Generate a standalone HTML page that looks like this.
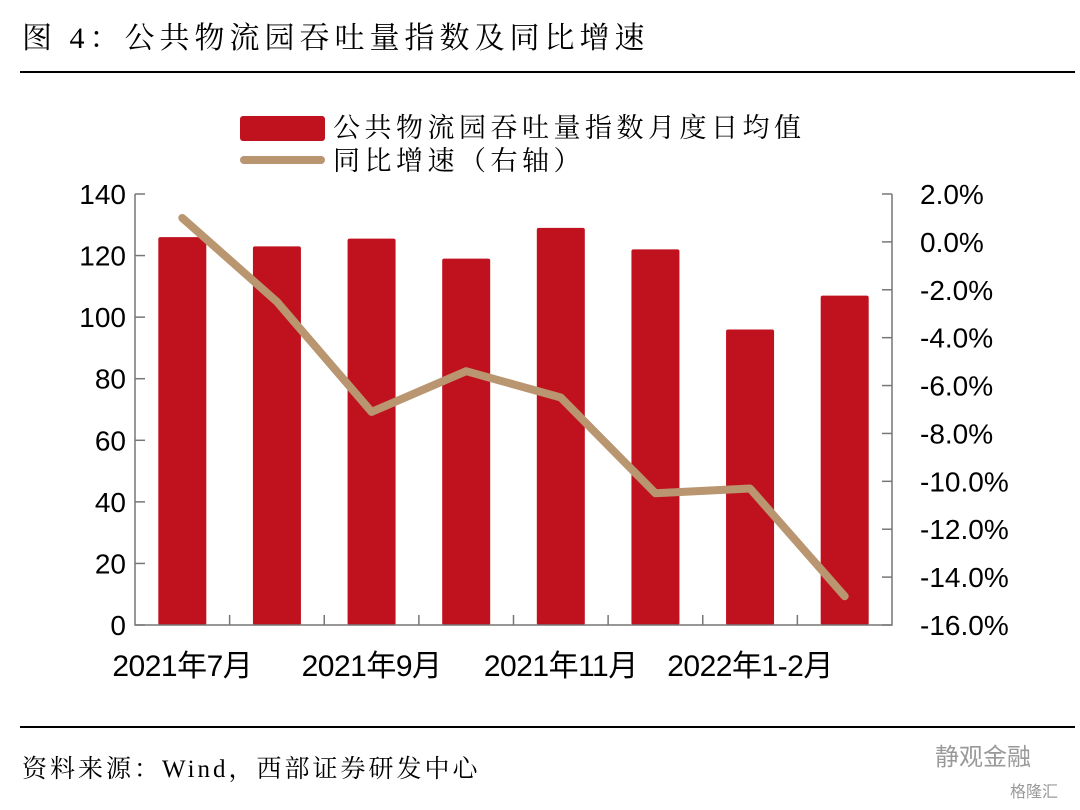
<!DOCTYPE html>
<html><head><meta charset="utf-8"><style>
body{margin:0;background:#fff;width:1080px;height:805px;overflow:hidden}
svg text{font-family:"Liberation Sans","Noto Sans CJK SC",sans-serif;fill:#000}
.serif{font-family:"Liberation Serif","Noto Serif CJK SC",serif}
</style></head><body>
<svg id="chart" width="1080" height="805">
<text class="serif" x="22" y="48" font-size="30" letter-spacing="5">图 4：公共物流园吞吐量指数及同比增速</text>
<line x1="20" y1="72" x2="1075" y2="72" stroke="#000" stroke-width="2"/>
<rect x="240" y="116" width="85" height="25" rx="3" fill="#c0111e"/>
<text class="serif" x="333" y="137" font-size="27" letter-spacing="4.5">公共物流园吞吐量指数月度日均值</text>
<line x1="244" y1="160" x2="321" y2="160" stroke="#b99570" stroke-width="8" stroke-linecap="round"/>
<text class="serif" x="333" y="170" font-size="27" letter-spacing="4.5">同比增速（右轴）</text>
<g id="plot"></g>
<line x1="20" y1="727" x2="1075" y2="727" stroke="#000" stroke-width="2"/>
<text class="serif" x="22" y="777" font-size="25" letter-spacing="3">资料来源：Wind，西部证券研发中心</text>
<text x="935" y="765" font-size="24" style="fill:#999">静观金融</text>
<text x="1010" y="797" font-size="16" style="fill:#999">格隆汇</text>
</svg>
<script>
const categories=["2021年7月","2021年8月","2021年9月","2021年10月","2021年11月","2021年12月","2022年1-2月","2022年3月"];
const xLabels=["2021年7月","","2021年9月","","2021年11月","","2022年1-2月",""];
const barValues=[126,123,125.5,119,129,122,96,107];
const yoyValues=[1.0,-2.5,-7.1,-5.4,-6.5,-10.5,-10.3,-14.8];
const leftTicks=[0,20,40,60,80,100,120,140];
const rightTicks=[2,0,-2,-4,-6,-8,-10,-12,-14,-16];
const NS="http://www.w3.org/2000/svg";
const g=document.getElementById('plot');
const X0=135,X1=892,Y0=625,Y1=194;
const cw=(X1-X0)/categories.length;
const xC=i=>X0+cw*(i+0.5);
const yL=v=>Y0-(v-0)/(140-0)*(Y0-Y1);
const yR=v=>Y0-(v+16)/(18)*(Y0-Y1);
function mk(t,a){const e=document.createElementNS(NS,t);for(const k in a)e.setAttribute(k,a[k]);g.appendChild(e);return e;}
barValues.forEach((v,i)=>{
 const r=mk('rect',{x:xC(i)-24,y:yL(v),width:48,height:Y0-yL(v),rx:2,fill:'#c0111e'});
 
 
});
let ax=mk('path',{d:`M${X0},${Y1}V${Y0}H${X1}V${Y1}`,fill:'none',stroke:'#777','stroke-width':1.5});


leftTicks.forEach(v=>{
 mk('line',{x1:X0,x2:X0+10,y1:yL(v),y2:yL(v),stroke:'#777','stroke-width':1.5});
 const t=mk('text',{x:126,y:yL(v)+10,'font-size':28,'text-anchor':'end'});t.textContent=v;
 
 
});
rightTicks.forEach(v=>{
 mk('line',{x1:X1-10,x2:X1,y1:yR(v),y2:yR(v),stroke:'#777','stroke-width':1.5});
 const t=mk('text',{x:920,y:yR(v)+10,'font-size':28});t.textContent=v.toFixed(1)+'%';
 
 
});
for(let i=1;i<categories.length;i++) mk('line',{x1:X0+cw*i,x2:X0+cw*i,y1:Y0,y2:Y0-10,stroke:'#777','stroke-width':1.5});
xLabels.forEach((l,i)=>{ if(!l)return;
 const t=mk('text',{x:xC(i),y:676,'font-size':30,'text-anchor':'middle','letter-spacing':-0.5});t.textContent=l;
 
 
});
const ln=mk('polyline',{points:yoyValues.map((v,i)=>xC(i)+','+yR(v)).join(' '),fill:'none',stroke:'#b99570','stroke-width':8,'stroke-linecap':'round','stroke-linejoin':'round'});


</script>
</body></html>
